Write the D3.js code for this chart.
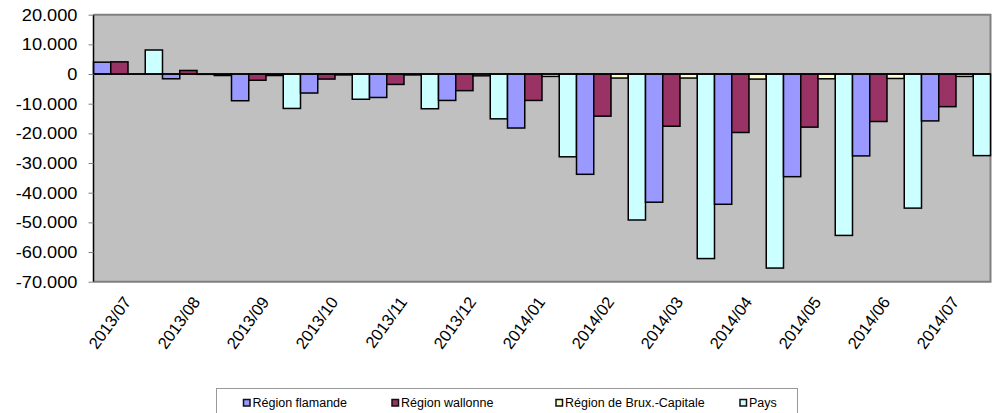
<!DOCTYPE html>
<html><head><meta charset="utf-8">
<script src="https://cdn.jsdelivr.net/npm/d3@7"></script>
<style>
html,body{margin:0;padding:0;background:#fff;}
svg{display:block;font-family:"Liberation Sans",Arial,sans-serif;}
</style></head>
<body><svg id="chart" width="992" height="413"></svg>
<script>
const categories = ["2013/07","2013/08","2013/09","2013/10","2013/11","2013/12","2014/01","2014/02","2014/03","2014/04","2014/05","2014/06","2014/07"];
const seriesNames = ["Région flamande","Région wallonne","Région de Brux.-Capitale","Pays"];
const flamande = [4000,-1600,-9000,-6400,-7900,-8900,-18200,-33800,-43200,-43900,-34600,-27600,-15800];
const wallonne = [4100,1200,-2100,-1700,-3500,-5600,-8900,-14200,-17600,-19700,-17900,-16000,-11000];
const bruxelles = [0,-100,-500,-300,-300,-600,-800,-1350,-1350,-1700,-1600,-1500,-800];
const pays = [8100,-500,-11600,-8500,-11700,-15100,-27900,-49200,-62200,-65400,-54400,-45200,-27500];
const yTicks = [20000,10000,0,-10000,-20000,-30000,-40000,-50000,-60000,-70000];
const colors = ["#9999FF","#993366","#FFFFCC","#CCFFFF"];
const seriesValues = [flamande, wallonne, bruxelles, pays];

const svg = d3.select("#chart");
const L = 93.5, R = 990.5, T = 14.7, B = 281.7;

const x = d3.scaleBand().domain(categories).range([L, R]).padding(0);
const xs = d3.scaleBand().domain(d3.range(seriesNames.length)).range([0, x.bandwidth()]).padding(0);
const y = d3.scaleLinear().domain([-70000, 20000]).range([B, T]);

const loc = d3.formatLocale({decimal: ",", thousands: ".", grouping: [3], currency: ["", ""], minus: "-"});
const fmt = loc.format(",d");

// plot background
svg.append("rect").attr("x", L).attr("y", T).attr("width", R - L).attr("height", B - T)
  .attr("fill", "#C0C0C0");
// gray frame (top, right, bottom)
svg.append("path")
  .attr("d", `M${L},${T}H${R}V${B}H${L}`)
  .attr("fill", "none").attr("stroke", "#808080").attr("stroke-width", 2);

// bars
const g = svg.append("g");
categories.forEach((c, i) => {
  seriesValues.forEach((vals, s) => {
    const v = vals[i];
    const y0 = y(0), y1 = y(v);
    g.append("rect")
      .attr("x", x(c) + xs(s))
      .attr("y", Math.min(y0, y1))
      .attr("width", xs.bandwidth())
      .attr("height", Math.max(Math.abs(y1 - y0), 0.01))
      .attr("fill", colors[s])
      .attr("stroke", "#000")
      .attr("stroke-width", 1.5);
  });
});

// zero line
svg.append("line").attr("x1", L).attr("x2", R).attr("y1", y(0)).attr("y2", y(0))
  .attr("stroke", "#000").attr("stroke-width", 1.5);

// y axis
const yAxis = svg.append("g").attr("transform", `translate(${L},0)`)
  .call(d3.axisLeft(y).tickValues(yTicks).tickFormat(fmt).tickSize(5).tickPadding(0));
yAxis.select(".domain").attr("stroke", "#000").attr("stroke-width", 1.5).attr("d", `M0,${T}V${B}`);
yAxis.selectAll(".tick line").attr("stroke", "#808080").attr("stroke-width", 1);
yAxis.selectAll(".tick text")
  .attr("x", null).attr("dy", null)
  .attr("transform", "translate(-16,5.5) scale(1.14,1)")
  .attr("font-size", 16).attr("fill", "#000")
  .attr("font-family", "'Liberation Sans',Arial,sans-serif");

// x labels
const xl = svg.append("g");
categories.forEach(c => {
  xl.append("text")
    .attr("transform", `translate(${x(c) + x.bandwidth() / 2 + 4},302) rotate(-54)`)
    .attr("text-anchor", "end")
    .attr("font-size", 16.5)
    .attr("fill", "#000")
    .text(c);
});

// legend
const leg = svg.append("g");
leg.append("rect").attr("x", 216.5).attr("y", 388.5).attr("width", 581).attr("height", 40)
  .attr("fill", "#fff").attr("stroke", "#999").attr("stroke-width", 1);
const legX = [243.5, 392, 556, 740];
seriesNames.forEach((n, s) => {
  leg.append("rect").attr("x", legX[s]).attr("y", 399.5).attr("width", 6.5).attr("height", 6.5)
    .attr("fill", colors[s]).attr("stroke", "#111").attr("stroke-width", 1.5);
  leg.append("text").attr("x", legX[s] + 9).attr("y", 406.5)
    .attr("font-size", 12.5).attr("fill", "#000").text(n);
});
</script></body></html>
